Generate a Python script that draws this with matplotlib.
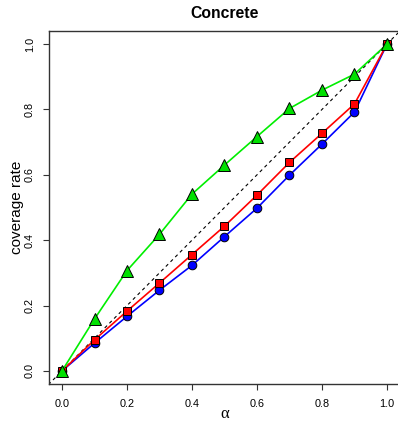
import matplotlib
matplotlib.use("Agg")
import matplotlib.pyplot as plt
import numpy as np

alpha = [0.0, 0.1, 0.2, 0.3, 0.4, 0.5, 0.6, 0.7, 0.8, 0.9, 1.0]
green_vals = [0.0, 0.159, 0.307, 0.418, 0.541, 0.630, 0.717, 0.803, 0.859, 0.908, 1.0]
red_vals = [0.0, 0.095, 0.183, 0.269, 0.356, 0.443, 0.538, 0.638, 0.727, 0.817, 1.0]
blue_vals = [0.0, 0.085, 0.167, 0.247, 0.323, 0.411, 0.498, 0.599, 0.694, 0.792, 1.0]
ticks = [0.0, 0.2, 0.4, 0.6, 0.8, 1.0]
tick_labels = ["0.0", "0.2", "0.4", "0.6", "0.8", "1.0"]

plt.rcParams['font.family'] = ['Liberation Sans', 'DejaVu Sans']

W, H = 398, 422
fig = plt.figure(figsize=(W / 100, H / 100), dpi=100)
left, right, top, bottom = 49, 400, 31, 384
ax = fig.add_axes([left / W, (H - bottom) / H, (right - left) / W, (bottom - top) / H])

ax.set_xlim(-0.04, 1.04)
ax.set_ylim(-0.04, 1.04)

ax.plot([-0.1, 1.1], [-0.1, 1.1], color='black', lw=0.8, ls=(0, (3, 3)), zorder=1)

ax.plot(alpha, blue_vals, color='#0000ff', lw=1.2, marker='o', ms=6.2,
        mfc='#0000ff', mec='black', mew=0.7, zorder=3)
ax.plot(alpha, red_vals, color='#ff0000', lw=1.2, marker='s', ms=5.6,
        mfc='#ff0000', mec='black', mew=0.7, zorder=4)
ax.plot(alpha, green_vals, color='#00ee00', lw=1.2, marker='^', ms=8,
        mfc='#00e000', mec='black', mew=0.7, zorder=5)

ax.set_xticks(ticks)
ax.set_xticklabels(tick_labels)
ax.set_yticks(ticks)
ax.set_yticklabels(tick_labels, rotation=90, va='center')
ax.tick_params(axis='both', direction='out', length=4, width=0.8, labelsize=7.8, color='#333333')
ax.tick_params(axis='x', pad=7)
ax.tick_params(axis='y', pad=6)

for s in ax.spines.values():
    s.set_linewidth(1.0)
    s.set_color('#333333')

ax.set_title("Concrete", fontsize=11.3, fontweight='bold', pad=9)
ax.set_xlabel("α", fontsize=12, family=['Liberation Serif', 'DejaVu Serif'], labelpad=-2.5)
ax.set_ylabel("coverage rate", fontsize=11, labelpad=1)

fig.savefig("out.png", dpi=100)
